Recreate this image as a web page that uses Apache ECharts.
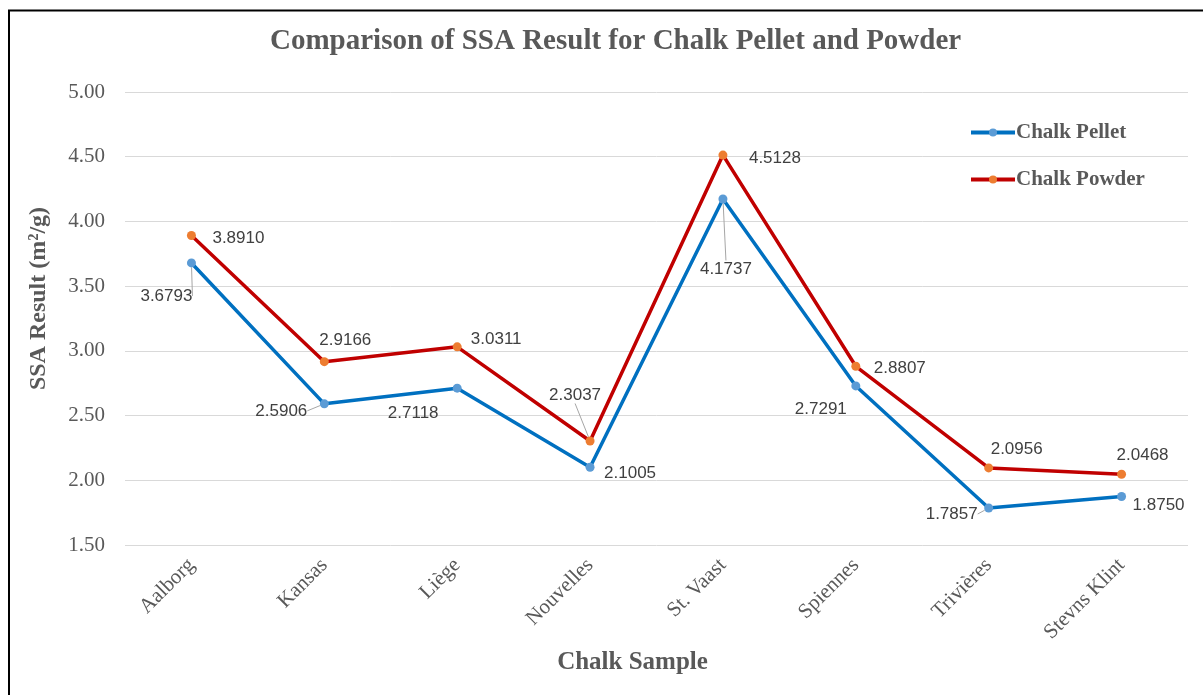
<!DOCTYPE html>
<html>
<head>
<meta charset="utf-8">
<script src="https://cdn.jsdelivr.net/npm/echarts@6/dist/echarts.min.js"></script>
<style>
  html, body { margin: 0; padding: 0; background: #fff; }
  #chart { width: 1203px; height: 695px; }
</style>
</head>
<body>
<div id="chart"></div>
<script>
// Chalk samples and measured specific surface area (m²/g)
const samples = ['Aalborg', 'Kansas', 'Liège', 'Nouvelles', 'St. Vaast', 'Spiennes', 'Trivières', 'Stevns Klint'];
const pelletSSA = [3.6793, 2.5906, 2.7118, 2.1005, 4.1737, 2.7291, 1.7857, 1.8750];
const powderSSA = [3.8910, 2.9166, 3.0311, 2.3037, 4.5128, 2.8807, 2.0956, 2.0468];
const yTicks = { min: 1.5, max: 5.0, step: 0.5 };

// Where each value label sits relative to its point, and which get a leader line
const pelletLabelShift = [[-25, 33], [-43, 7], [-44, 25], [40, 6], [3, 70], [-35, 23], [-37, 6], [37, 9]];
const powderLabelShift = [[47, 3], [21, -21], [39, -8], [-15, -46], [52, 3], [44, 2], [28, -19], [21, -19]];
const pelletLeader = [true, true, false, false, true, false, true, false];
const powderLeader = [false, false, false, true, false, false, false, false];

const serif = '"Liberation Serif", "Times New Roman", serif';
const sans = '"Liberation Sans", Arial, sans-serif';
const grey = '#595959';

function buildData(values, leaders) {
  return values.map((v, i) => ({
    value: v,
    labelLine: { show: leaders[i] }
  }));
}

const chart = echarts.init(document.getElementById('chart'), null, { renderer: 'canvas' });

const valueLabel = {
  show: true,
  position: 'inside',
  fontFamily: sans,
  fontSize: 17,
  color: '#404040',
  formatter: p => p.value.toFixed(4)
};

chart.setOption({
  backgroundColor: '#fff',
  animation: false,
  title: {
    text: 'Comparison of SSA Result for Chalk Pellet and Powder',
    left: 265,
    top: 22,
    textStyle: { fontFamily: serif, fontSize: 29, fontWeight: 'bold', color: grey }
  },
  legend: {
    orient: 'vertical',
    left: 964,
    top: 117,
    itemGap: 26,
    itemWidth: 44,
    itemHeight: 10,
    lineStyle: { width: 4 },
    textStyle: { fontFamily: serif, fontSize: 21, fontWeight: 'bold', color: grey, padding: [0, 0, 0, -4] },
    data: ['Chalk Pellet', 'Chalk Powder']
  },
  grid: { left: 125, right: 15, top: 92, bottom: 150 },
  xAxis: {
    type: 'category',
    data: samples,
    boundaryGap: true,
    axisLine: { show: false },
    axisTick: { show: false },
    axisLabel: {
      rotate: 45,
      margin: 17,
      fontFamily: serif,
      fontSize: 21,
      color: grey
    },
    name: 'Chalk Sample',
    nameLocation: 'middle',
    nameGap: 102,
    nameTextStyle: { fontFamily: serif, fontSize: 25, fontWeight: 'bold', color: grey, padding: [0, 48, 0, 0] }
  },
  yAxis: {
    type: 'value',
    min: yTicks.min,
    max: yTicks.max,
    interval: yTicks.step,
    axisLine: { show: false },
    axisTick: { show: false },
    splitLine: { lineStyle: { color: '#d9d9d9', width: 1 } },
    axisLabel: {
      margin: 20,
      fontFamily: serif,
      fontSize: 21,
      color: grey,
      formatter: v => v.toFixed(2)
    },
    name: 'SSA Result (m²/g)',
    nameLocation: 'middle',
    nameGap: 74,
    nameTextStyle: { fontFamily: serif, fontSize: 24, fontWeight: 'bold', color: grey, padding: [0, 0, 0, 40] }
  },
  graphic: [{
    type: 'polyline',
    silent: true,
    shape: { points: [[9, 700], [9, 10.5], [1210, 10.5]] },
    style: { stroke: '#000', lineWidth: 2, fill: null }
  }],
  series: [
    {
      name: 'Chalk Pellet',
      type: 'line',
      data: buildData(pelletSSA, pelletLeader),
      symbol: 'circle',
      symbolSize: 9,
      lineStyle: { color: '#0070C0', width: 3.5 },
      itemStyle: { color: '#5B9BD5' },
      label: valueLabel,
      labelLine: { lineStyle: { color: '#a6a6a6', width: 1 } },
      labelLayout: p => ({ dx: pelletLabelShift[p.dataIndex][0], dy: pelletLabelShift[p.dataIndex][1] }),
      z: 3
    },
    {
      name: 'Chalk Powder',
      type: 'line',
      data: buildData(powderSSA, powderLeader),
      symbol: 'circle',
      symbolSize: 9,
      lineStyle: { color: '#C00000', width: 3.5 },
      itemStyle: { color: '#ED7D31' },
      label: valueLabel,
      labelLine: { lineStyle: { color: '#a6a6a6', width: 1 } },
      labelLayout: p => ({ dx: powderLabelShift[p.dataIndex][0], dy: powderLabelShift[p.dataIndex][1] }),
      z: 3
    }
  ]
});
</script>
</body>
</html>
